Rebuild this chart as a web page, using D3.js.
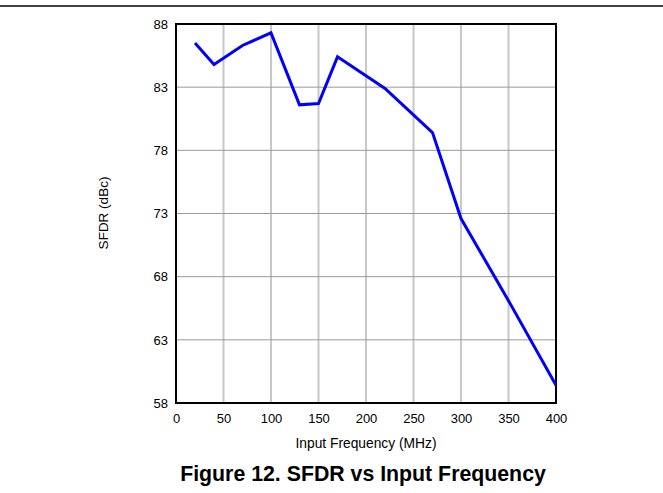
<!DOCTYPE html>
<html>
<head>
<meta charset="utf-8">
<script src="https://cdn.jsdelivr.net/npm/d3@7"></script>
<style>
    body { margin: 0; background: #fff; }
    text { font-family: "Liberation Sans", Arial, sans-serif; fill: #000; }
</style>
</head>
<body>
<div id="container"></div>
<script>
// values
const freqMHz = [20, 40, 70, 100, 130, 150, 170, 220, 270, 300, 350, 400];
const sfdrDbc = [86.5, 84.8, 86.3, 87.3, 81.6, 81.7, 85.4, 82.9, 79.4, 72.6, 66.1, 59.4];
const xTicks = [0, 50, 100, 150, 200, 250, 300, 350, 400];
const yTicks = [58, 63, 68, 73, 78, 83, 88];

const w = 663, h = 493;
const margin = {top: 24, right: 107, bottom: 90, left: 176};

const svg = d3.select("#container")
    .append("svg")
    .attr("width", w)
    .attr("height", h);

const xScale = d3.scaleLinear()
    .domain([0, 400])
    .range([margin.left, w - margin.right]);

const yScale = d3.scaleLinear()
    .domain([58, 88])
    .range([h - margin.bottom, margin.top]);

// rule at the top of the page
svg.append("line")
    .attr("x1", 0).attr("x2", w)
    .attr("y1", 6).attr("y2", 6)
    .attr("stroke", "#000")
    .attr("stroke-width", 1.5);

// grid
svg.append("g")
    .selectAll("line")
    .data(xTicks.slice(1, -1))
    .enter()
    .append("line")
    .attr("x1", (d) => xScale(d)).attr("x2", (d) => xScale(d))
    .attr("y1", yScale(88)).attr("y2", yScale(58))
    .attr("stroke", "#c8c8c8")
    .attr("stroke-width", 2);

svg.append("g")
    .selectAll("line")
    .data(yTicks.slice(1, -1))
    .enter()
    .append("line")
    .attr("x1", xScale(0)).attr("x2", xScale(400))
    .attr("y1", (d) => yScale(d)).attr("y2", (d) => yScale(d))
    .attr("stroke", "#9a9a9a")
    .attr("stroke-width", 1);

// axes (labels only, frame drawn separately)
const xAxis = svg.append("g")
    .attr("transform", "translate(0," + yScale(58) + ")")
    .call(d3.axisBottom(xScale).tickValues(xTicks).tickSize(0).tickPadding(11));

const yAxis = svg.append("g")
    .attr("transform", "translate(" + xScale(0) + ",0)")
    .call(d3.axisLeft(yScale).tickValues(yTicks).tickSize(0).tickPadding(8));

[xAxis, yAxis].forEach((a) => {
    a.select(".domain").remove();
    a.selectAll("text")
        .style("font-family", '"Liberation Sans", Arial, sans-serif')
        .style("font-size", "13px")
        .attr("fill", "#000");
});

// frame
svg.append("rect")
    .attr("x", xScale(0))
    .attr("y", yScale(88))
    .attr("width", xScale(400) - xScale(0))
    .attr("height", yScale(58) - yScale(88))
    .attr("fill", "none")
    .attr("stroke", "#000")
    .attr("stroke-width", 2);

// data line
const line = d3.line()
    .x((d, i) => xScale(freqMHz[i]))
    .y((d) => yScale(d));

svg.append("path")
    .datum(sfdrDbc)
    .attr("d", line)
    .attr("fill", "none")
    .attr("stroke", "#0000ff")
    .attr("stroke-width", 3)
    .attr("stroke-linejoin", "miter");

// titles
svg.append("text")
    .attr("x", 366)
    .attr("y", 448)
    .attr("text-anchor", "middle")
    .style("font-size", "13.8px")
    .text("Input Frequency (MHz)");

svg.append("text")
    .attr("transform", "translate(108,213) rotate(-90)")
    .attr("text-anchor", "middle")
    .style("font-size", "13.5px")
    .text("SFDR (dBc)");

svg.append("text")
    .attr("x", 363)
    .attr("y", 481)
    .attr("text-anchor", "middle")
    .style("font-size", "21.3px")
    .style("font-weight", "bold")
    .text("Figure 12. SFDR vs Input Frequency");
</script>
</body>
</html>
